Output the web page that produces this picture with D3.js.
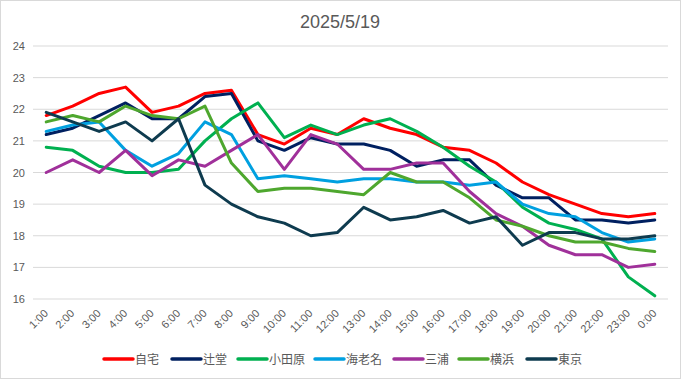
<!DOCTYPE html>
<html><head><meta charset="utf-8">
<script src="https://cdn.jsdelivr.net/npm/d3@7"></script>
<style>
html,body{margin:0;padding:0;background:#fff;}
text{font-family:"Liberation Sans","Noto Sans CJK JP",sans-serif;}
</style></head>
<body><svg id="c" width="681" height="379"></svg>
<script>
const categories = ["1:00","2:00","3:00","4:00","5:00","6:00","7:00","8:00","9:00","10:00","11:00","12:00","13:00","14:00","15:00","16:00","17:00","18:00","19:00","20:00","21:00","22:00","23:00","0:00"];
const seriesNames = ["自宅","辻堂","小田原","海老名","三浦","横浜","東京"];
const seriesColors = ["#ff0000","#002060","#00b050","#00a0e0","#a0309a","#4ea72e","#0e3b4f"];
const jitaku   = [21.8,22.1,22.5,22.7,21.9,22.1,22.5,22.6,21.2,20.9,21.4,21.2,21.7,21.4,21.2,20.8,20.7,20.3,19.7,19.3,19.0,18.7,18.6,18.7];
const tsujido  = [21.2,21.4,21.8,22.2,21.7,21.7,22.4,22.5,21.0,20.7,21.1,20.9,20.9,20.7,20.2,20.4,20.4,19.6,19.2,19.2,18.5,18.5,18.4,18.5];
const odawara  = [20.8,20.7,20.2,20.0,20.0,20.1,21.0,21.7,22.2,21.1,21.5,21.2,21.5,21.7,21.3,20.8,20.2,19.7,18.9,18.4,18.2,17.9,16.7,16.1];
const ebina    = [21.3,21.5,21.6,20.7,20.2,20.6,21.6,21.2,19.8,19.9,19.8,19.7,19.8,19.8,19.7,19.7,19.6,19.7,19.0,18.7,18.6,18.1,17.8,17.9];
const miura    = [20.0,20.4,20.0,20.7,19.9,20.4,20.2,20.7,21.2,20.1,21.2,20.9,20.1,20.1,20.3,20.3,19.4,18.7,18.3,17.7,17.4,17.4,17.0,17.1];
const yokohama = [21.6,21.8,21.6,22.1,21.8,21.7,22.1,20.3,19.4,19.5,19.5,19.4,19.3,20.0,19.7,19.7,19.2,18.5,18.3,18.0,17.8,17.8,17.6,17.5];
const tokyo    = [21.9,21.6,21.3,21.6,21.0,21.7,19.6,19.0,18.6,18.4,18.0,18.1,18.9,18.5,18.6,18.8,18.4,18.6,17.7,18.1,18.1,17.9,17.9,18.0];
const yTicks = [16,17,18,19,20,21,22,23,24];
const title = "2025/5/19";

(function(){
const allSeries = [jitaku,tsujido,odawara,ebina,miura,yokohama,tokyo];
const svg = d3.select("#c");
svg.append("rect").attr("x",0.5).attr("y",0.5).attr("width",680).attr("height",378)
  .attr("fill","#fff").attr("stroke","#d9d9d9");

const pl=33, pr=668, pt=46, pb=299;
const x = d3.scalePoint().domain(categories).range([pl,pr]).padding(0.5);
const y = d3.scaleLinear().domain([16,24]).range([pb,pt]);

svg.append("text").attr("x",340).attr("y",28).attr("text-anchor","middle")
  .attr("font-size",18).attr("fill","#595959").text(title);

svg.append("g").selectAll("line").data(yTicks).join("line")
  .attr("x1",pl).attr("x2",pr).attr("y1",d=>y(d)).attr("y2",d=>y(d))
  .attr("stroke","#d9d9d9").attr("stroke-width",1);

const ya = svg.append("g").attr("transform",`translate(${pl},0)`)
  .call(d3.axisLeft(y).tickValues(yTicks).tickSize(0).tickPadding(8).tickFormat(d3.format("d")));
ya.select(".domain").remove();
ya.selectAll("text").attr("font-size",11).attr("fill","#595959")
  .style("font-family","'Liberation Sans',sans-serif");

const xa = svg.append("g").attr("transform",`translate(0,${pb})`)
  .call(d3.axisBottom(x).tickSize(0).tickPadding(0));
xa.select(".domain").remove();
xa.selectAll("text").attr("font-size",11).attr("fill","#595959")
  .attr("text-anchor","end").attr("dy",null).attr("y",null)
  .attr("transform","translate(2,15) rotate(-45)")
  .style("font-family","'Liberation Sans',sans-serif");

const line = d3.line().x((d,i)=>x(categories[i])).y(d=>y(d));
svg.append("g").selectAll("path").data(allSeries).join("path")
  .attr("d",line).attr("fill","none")
  .attr("stroke",(d,i)=>seriesColors[i]).attr("stroke-width",3)
  .attr("stroke-linejoin","round").attr("stroke-linecap","round");

const legendX = [104,172,238,315,394,459,527];
const lg = svg.append("g").attr("transform","translate(0,359)");
seriesNames.forEach((n,i)=>{
  const g = lg.append("g").attr("transform",`translate(${legendX[i]},0)`);
  g.append("line").attr("x1",0).attr("x2",29).attr("y1",0).attr("y2",0)
    .attr("stroke",seriesColors[i]).attr("stroke-width",3.5).attr("stroke-linecap","round");
  g.append("text").attr("x",31).attr("y",4.5).attr("font-size",12).attr("fill","#595959")
    .style("font-family","'Noto Sans CJK JP',sans-serif").text(n);
});
})();
</script></body></html>
